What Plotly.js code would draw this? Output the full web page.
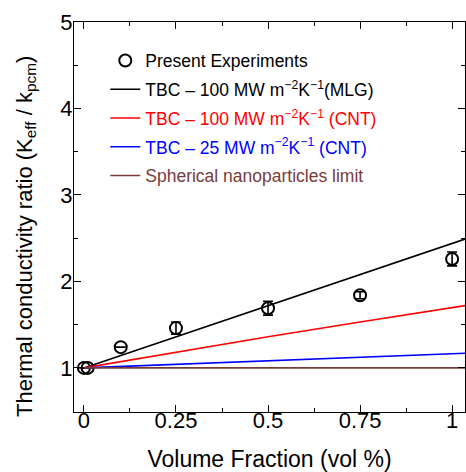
<!DOCTYPE html>
<html><head><meta charset="utf-8">
<script src="https://cdn.plot.ly/plotly-3.0.1.min.js"></script>
<style>body{margin:0;background:#fff}#c{width:466px;height:472px}</style>
</head><body><div id="c"></div>
<script>
// Experimental data
var expX = [0, 0.01, 0.1, 0.25, 0.5, 0.75, 1];
var expY = [1.0, 1.0, 1.24, 1.46, 1.69, 1.84, 2.26];
var expErr = [0, 0, 0, 0.07, 0.08, 0.04, 0.08];
// Model curves
var modelX = [0, 0.25, 0.5, 0.75, 1, 1.035];
var mlg100 = [1.0, 1.36, 1.72, 2.08, 2.44, 2.49];
var cnt100 = [1.0, 1.18, 1.36, 1.53, 1.70, 1.72];
var cnt25 = [1.0, 1.04, 1.085, 1.125, 1.165, 1.17];
var spherical = [1.0, 1.0, 1.0, 1.0, 1.0, 1.0];
var xTicks = [0, 0.25, 0.5, 0.75, 1];
var xTickText = ['0', '0.25', '0.5', '0.75', '1'];
var yTicks = [1, 2, 3, 4, 5];
var yTitle = 'Thermal conductivity ratio (K<sub>eff</sub> / k<sub>pcm</sub>)';
var xTitle = 'Volume Fraction (vol %)';

var FONT = 'Liberation Sans, Arial, sans-serif';
var traces = [
  {x: expX, y: expY, mode: 'markers', type: 'scatter', name: 'Present Experiments', legendgroup: 'a',
   marker: {symbol: 'circle-open', size: 12, color: '#000', line: {width: 2, color: '#000'}},
   error_y: {type: 'data', array: expErr, visible: true, color: '#000', thickness: 1.6, width: 5}},
  {x: modelX, y: mlg100, mode: 'lines', type: 'scatter', line: {color: '#000', width: 1.6}, legendgroup: 'b',
   name: 'TBC \u2013 100 MW m<sup>\u22122</sup>K<sup>\u22121</sup>(MLG)'},
  {x: modelX, y: cnt100, mode: 'lines', type: 'scatter', line: {color: '#ff0000', width: 1.6}, legendgroup: 'c',
   name: '<span style="color:#ff0000">TBC \u2013 100 MW m<sup>\u22122</sup>K<sup>\u22121</sup> (CNT)</span>'},
  {x: modelX, y: cnt25, mode: 'lines', type: 'scatter', line: {color: '#0000ff', width: 1.6}, legendgroup: 'd',
   name: '<span style="color:#0000ff">TBC \u2013 25 MW m<sup>\u22122</sup>K<sup>\u22121</sup> (CNT)</span>'},
  {x: modelX, y: spherical, mode: 'lines', type: 'scatter', line: {color: '#7a3b3b', width: 1.6}, legendgroup: 'e',
   name: '<span style="color:#7a3b3b">Spherical nanoparticles limit</span>'}
];

var axisCommon = {
  showgrid: false, zeroline: false, showline: true, linecolor: '#000', linewidth: 1.2,
  mirror: 'ticks', ticks: 'inside', ticklen: 7, tickcolor: '#000', tickwidth: 1,
  tickfont: {family: FONT, size: 22, color: '#000'}
};

var layout = {
  width: 466, height: 472,
  margin: {l: 74, r: 1, t: 22, b: 60},
  paper_bgcolor: '#fff', plot_bgcolor: '#fff',
  font: {family: FONT, color: '#000'},
  showlegend: true,
  legend: {x: 0.08, y: 0.947, xanchor: 'left', yanchor: 'top', bgcolor: 'rgba(0,0,0,0)',
    font: {family: FONT, size: 17.5, color: '#000'}, tracegroupgap: 3, itemwidth: 30},
  xaxis: Object.assign({}, axisCommon, {
    range: [-0.027, 1.035], tickvals: xTicks, ticktext: xTickText, ticklabelstandoff: -12,
    minor: {tickvals: [0.125, 0.375, 0.625, 0.875], ticks: 'inside', ticklen: 4, tickcolor: '#000'},
    title: {text: xTitle, font: {size: 23, family: FONT, color: '#000'}, standoff: 20}
  }),
  yaxis: Object.assign({}, axisCommon, {
    range: [0.49, 5], tickvals: yTicks, ticklabelstandoff: -4,
    minor: {tickvals: [1.5, 2.5, 3.5, 4.5], ticks: 'inside', ticklen: 4, tickcolor: '#000'}
  }),
  annotations: [{
    text: yTitle, xref: 'paper', yref: 'paper', x: -0.123, y: 0.451,
    xanchor: 'center', yanchor: 'middle', textangle: -90, showarrow: false,
    font: {size: 22, family: FONT, color: '#000'}
  }]
};

Plotly.newPlot('c', traces, layout, {displayModeBar: false, staticPlot: true});
</script></body></html>
